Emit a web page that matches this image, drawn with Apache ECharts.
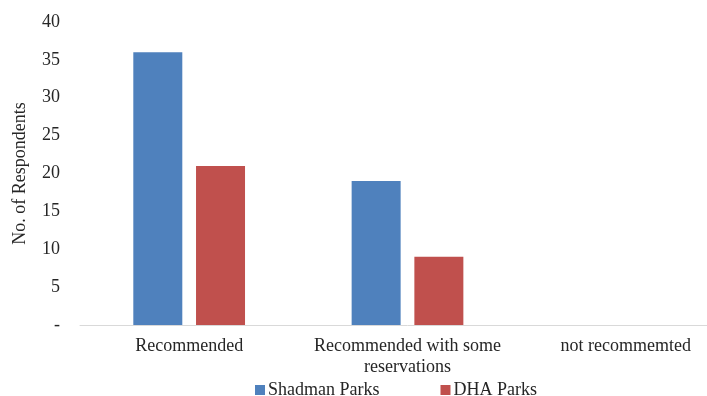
<!DOCTYPE html>
<html>
<head>
<meta charset="utf-8">
<script src="https://cdn.jsdelivr.net/npm/echarts@6/dist/echarts.min.js"></script>
<style>html,body{margin:0;padding:0;background:#fff;overflow:hidden}#c{width:740px;height:396px}</style>
</head>
<body>
<div id="c"></div>
<script>
var categories = ['Recommended', 'Recommended with some\nreservations', 'not recommemted'];
var shadman = [36, 19, 0];
var dha = [21, 9, 0];
var yTicks = { min: 0, max: 40, interval: 5 };

var chart = echarts.init(document.getElementById('c'));
var font = 'Liberation Serif, Times New Roman, serif';
var txt = '#262626';
chart.setOption({
  animation: false,
  grid: { left: 80, width: 655, top: 22, bottom: 71, containLabel: false },
  legend: {
    data: ['Shadman Parks', 'DHA Parks'],
    left: 250, top: 376,
    itemWidth: 10, itemHeight: 10, itemGap: 61,
    icon: 'rect',
    textStyle: { fontFamily: font, fontSize: 18, color: txt, padding: [0, 0, 0, -2] }
  },
  xAxis: {
    type: 'category',
    data: categories,
    axisLine: { lineStyle: { color: '#d9d9d9', width: 1 } },
    axisTick: { show: false },
    axisLabel: { fontFamily: font, fontSize: 18, color: txt, margin: 11, lineHeight: 21, interval: 0 }
  },
  yAxis: {
    type: 'value',
    min: yTicks.min, max: yTicks.max, interval: yTicks.interval,
    name: 'No. of Respondents',
    nameLocation: 'middle',
    nameGap: 51,
    nameTextStyle: { fontFamily: font, fontSize: 18, color: txt },
    axisLine: { show: false },
    axisTick: { show: false },
    splitLine: { show: false },
    axisLabel: {
      fontFamily: font, fontSize: 18, color: txt, margin: 20,
      formatter: function (v) { return v === 0 ? '-' : String(v); }
    }
  },
  series: [
    { name: 'Shadman Parks', type: 'bar', data: shadman, barWidth: 49, barGap: '28%',
      itemStyle: { color: '#4f81bd' } },
    { name: 'DHA Parks', type: 'bar', data: dha, barWidth: 49,
      itemStyle: { color: '#c0504d' } }
  ]
});
</script>
</body>
</html>
